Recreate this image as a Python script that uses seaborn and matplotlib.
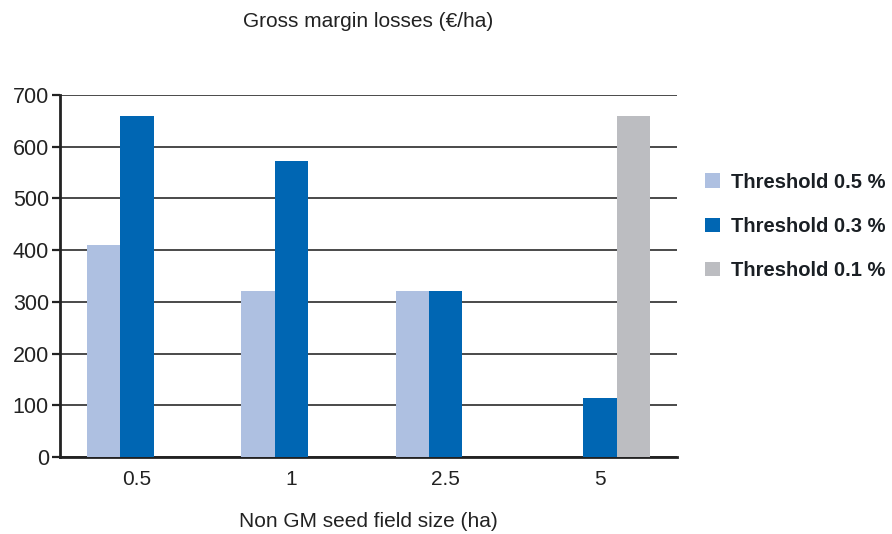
import numpy as np
import pandas as pd
import matplotlib.pyplot as plt
import seaborn as sns
from matplotlib.patches import Patch

# data (nan = no bar)
field_sizes = ['0.5', '1', '2.5', '5']
threshold_05 = [410, 322, 322, np.nan]
threshold_03 = [659, 572, 322, 114]
threshold_01 = [np.nan, np.nan, np.nan, 659]
series_names = ['Threshold 0.5 %', 'Threshold 0.3 %', 'Threshold 0.1 %']
colors = ['#aec0e1', '#0066b3', '#bcbdc1']

df = pd.DataFrame({
    'size': field_sizes * 3,
    'loss': threshold_05 + threshold_03 + threshold_01,
    'threshold': [s for s in series_names for _ in field_sizes],
})

sns.set_style('white')
plt.rcParams['font.family'] = ['Liberation Sans', 'DejaVu Sans']

fig = plt.figure(figsize=(8.92, 5.34), dpi=100)
ax = fig.add_axes([0.0673, 0.144, 0.6919, 0.678])

sns.barplot(data=df, x='size', y='loss', hue='threshold', hue_order=series_names,
            palette=colors, width=0.65, saturation=1, legend=False, ax=ax,
            linewidth=0, edgecolor='none', zorder=3)

ax.set_ylim(0, 700)
ax.set_xlim(-0.5, 3.5)
ax.set_yticks(range(0, 701, 100))
ax.yaxis.grid(True, color='#4a4a4a', linewidth=1.4, zorder=0)
ax.set_axisbelow(True)

# tick marks sit between the groups, labels at the group centres
ax.set_xticks([-0.5, 0.5, 1.5, 2.5, 3.5], minor=True)
ax.tick_params(axis='x', which='major', length=0, labelsize=15, pad=9, colors='#222222')
ax.tick_params(axis='x', which='minor', length=6, width=1.6, color='#222222', direction='out')
ax.tick_params(axis='y', length=6, width=1.6, color='#222222', labelsize=15.5, pad=2,
               labelcolor='#222222', left=True)

for side in ['top', 'right']:
    ax.spines[side].set_visible(False)
for side in ['left', 'bottom']:
    ax.spines[side].set_color('#222222')
    ax.spines[side].set_linewidth(2)

ax.set_xlabel('Non GM seed field size (ha)', fontsize=15, color='#222222', labelpad=17)
ax.set_ylabel('')
fig.text(0.413, 0.96, 'Gross margin losses (€/ha)', ha='center', va='center',
         fontsize=15, color='#222222')

handles = [Patch(facecolor=c, edgecolor='none') for c in colors]
leg = fig.legend(handles, series_names, loc='center left', bbox_to_anchor=(0.79, 0.576),
                 frameon=False, handlelength=0.75, handleheight=0.75, handletextpad=0.55,
                 labelspacing=1.25, borderpad=0, borderaxespad=0,
                 prop={'size': 14.5, 'weight': 'bold'})
for t in leg.get_texts():
    t.set_color('#1a1f24')

fig.savefig('out.png', dpi=100)
